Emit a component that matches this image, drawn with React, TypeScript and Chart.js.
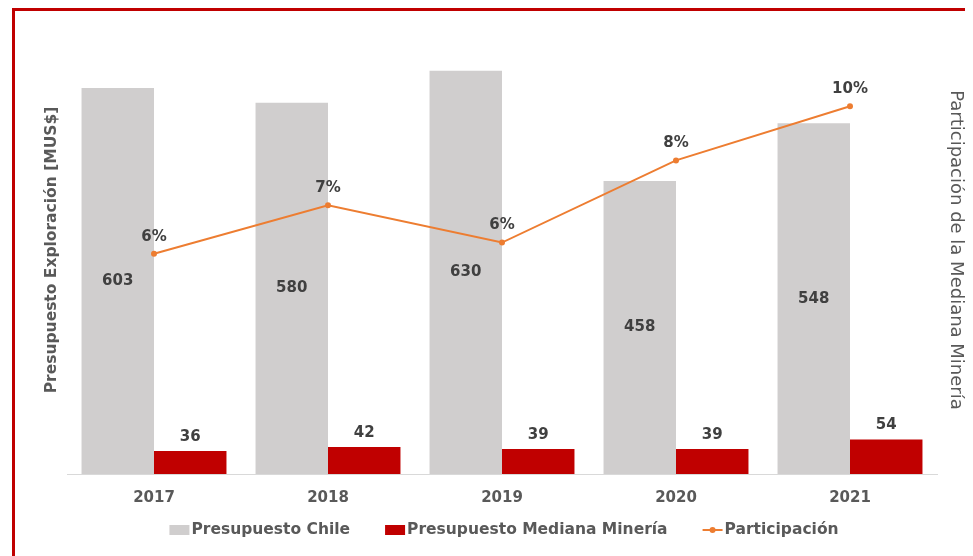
import React, { useEffect, useRef } from "react";
import { Chart, registerables } from "chart.js";

Chart.register(...registerables);

const categories = ["2017", "2018", "2019", "2020", "2021"];
const presupuestoChile = [603, 580, 630, 458, 548];
const presupuestoMediana = [36, 42, 39, 39, 54];
const participacion = [0.059, 0.072, 0.062, 0.084, 0.0985];

const GRAY = "#d0cece";
const RED = "#c00000";
const ORANGE = "#ed7d31";
const TEXT = "#595959";
const LABEL = "#404040";
const FONT = "'DejaVu Sans', sans-serif";

const labelPlugin = {
  id: "valueLabels",
  afterDatasetsDraw(chart: any) {
    const ctx = chart.ctx;
    ctx.save();
    ctx.font = `bold 15px ${FONT}`;
    ctx.fillStyle = LABEL;
    ctx.textAlign = "center";
    ctx.textBaseline = "middle";
    chart.data.datasets.forEach((ds: any, di: number) => {
      const meta = chart.getDatasetMeta(di);
      meta.data.forEach((el: any, i: number) => {
        const v = ds.data[i];
        if (di === 0) {
          ctx.fillText(String(v), el.x, (el.y + el.base) / 2);
        } else if (di === 1) {
          ctx.fillText(String(v), el.x, el.y - 14);
        } else {
          ctx.fillText(Math.round(v * 100) + "%", el.x, el.y - 17);
        }
      });
    });
    ctx.restore();
  },
};

const legendPlugin = {
  id: "customLegend",
  afterDraw(chart: any) {
    const ctx = chart.ctx;
    const ca = chart.chartArea;
    ctx.save();
    ctx.font = `bold 15.5px ${FONT}`;
    ctx.textBaseline = "middle";
    ctx.textAlign = "left";
    const boxW = 20;
    const gap = 2;
    const itemGap = 35;
    const items = chart.data.datasets.map((ds: any) => ({
      label: ds.label as string,
      color: ds.backgroundColor as string,
      type: ds.type as string,
      w: ctx.measureText(ds.label).width,
    }));
    const total =
      items.reduce((s: number, it: any) => s + boxW + gap + it.w, 0) +
      itemGap * (items.length - 1);
    let x = (ca.left + ca.right) / 2 + 2 - total / 2;
    const cy = ca.bottom + 56;
    items.forEach((it: any) => {
      if (it.type === "line") {
        ctx.strokeStyle = it.color;
        ctx.lineWidth = 2;
        ctx.beginPath();
        ctx.moveTo(x, cy);
        ctx.lineTo(x + boxW, cy);
        ctx.stroke();
        ctx.fillStyle = it.color;
        ctx.beginPath();
        ctx.arc(x + boxW / 2, cy, 3, 0, Math.PI * 2);
        ctx.fill();
      } else {
        ctx.fillStyle = it.color;
        ctx.fillRect(x, cy - 5, boxW, 10);
      }
      ctx.fillStyle = TEXT;
      ctx.fillText(it.label, x + boxW + gap, cy);
      x += boxW + gap + it.w + itemGap;
    });
    ctx.restore();
  },
};

export default function App() {
  const ref = useRef<HTMLCanvasElement>(null);

  useEffect(() => {
    if (!ref.current) return;
    const chart = new Chart(ref.current, {
      type: "bar",
      data: {
        labels: categories,
        datasets: [
          {
            type: "bar",
            label: "Presupuesto Chile",
            data: presupuestoChile,
            backgroundColor: GRAY,
            yAxisID: "y",
            order: 2,
            categoryPercentage: 0.833,
            barPercentage: 1.0,
          },
          {
            type: "bar",
            label: "Presupuesto Mediana Minería",
            data: presupuestoMediana,
            backgroundColor: RED,
            yAxisID: "y",
            order: 2,
            categoryPercentage: 0.833,
            barPercentage: 1.0,
          },
          {
            type: "line",
            label: "Participación",
            data: participacion,
            borderColor: ORANGE,
            backgroundColor: ORANGE,
            borderWidth: 2,
            pointRadius: 3,
            pointBorderWidth: 0,
            pointBackgroundColor: ORANGE,
            tension: 0,
            yAxisID: "y1",
            order: 0,
          },
        ],
      } as any,
      options: {
        animation: false,
        responsive: false,
        layout: { padding: { left: 24, right: 3, top: 15, bottom: 42 } },
        plugins: {
          tooltip: { enabled: false },
          legend: { display: false },
        },
        scales: {
          x: {
            grid: { display: false },
            border: { display: true, color: "#d9d9d9", width: 1 },
            ticks: {
              color: TEXT,
              font: { family: FONT, size: 15, weight: "bold" },
              padding: 7,
            },
          },
          y: {
            position: "left",
            min: 0,
            max: 700,
            grid: { display: false },
            border: { display: false },
            ticks: { display: false },
            afterFit: (s: any) => {
              s.width = 28;
            },
            title: {
              display: true,
              text: "Presupuesto Exploración [MUS$]",
              color: TEXT,
              font: { family: FONT, size: 15.5, weight: "bold" },
              padding: { top: 4, bottom: 0 },
            },
          },
          y1: {
            position: "right",
            min: 0,
            max: 0.12,
            grid: { display: false },
            border: { display: false },
            ticks: { display: false },
            afterFit: (s: any) => {
              s.width = 33;
            },
            title: {
              display: true,
              text: "Participación de la Mediana Minería",
              color: TEXT,
              font: { family: FONT, size: 18, weight: "normal" },
              padding: { top: 4, bottom: 0 },
            },
          },
        },
      } as any,
      plugins: [labelPlugin, legendPlugin],
    });
    return () => chart.destroy();
  }, []);

  return (
    <div
      style={{
        marginLeft: 4,
        borderTop: "3px solid #c00000",
        borderLeft: "3px solid #c00000",
        width: 958,
        height: 545,
      }}
    >
      <canvas ref={ref} width={958} height={545} style={{ display: "block" }} />
    </div>
  );
}
